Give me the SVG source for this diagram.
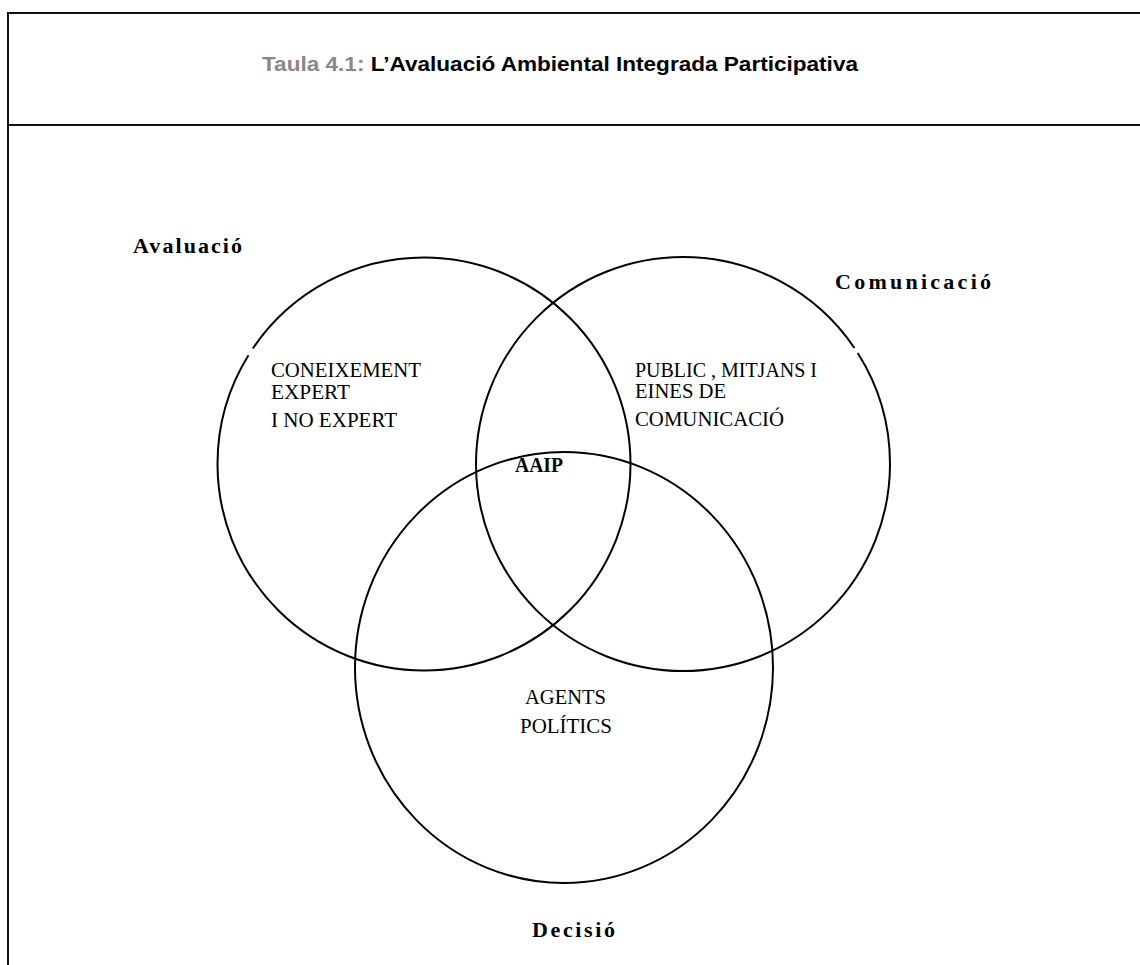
<svg xmlns="http://www.w3.org/2000/svg" width="1140" height="965" viewBox="0 0 1140 965">
<style>
.frame{fill:none;stroke:#111;stroke-width:2}
.circ{fill:none;stroke:#000;stroke-width:2}
.ttl{font-family:"Liberation Sans",Arial,sans-serif;font-size:21px;font-weight:bold}
.lbl{font-family:"Liberation Serif","Times New Roman",serif;font-size:22px;font-weight:bold;fill:#000}
.txt{font-family:"Liberation Serif","Times New Roman",serif;font-size:20px;fill:#000}
</style>
<rect width="1140" height="965" fill="#fff"/>
<g id="frame">
<polyline class="frame" points="1141,13 8,13 8,966"/>
<line class="frame" x1="8" y1="125" x2="1141" y2="125"/>
</g>
<g id="title">
<text class="ttl" x="262" y="71" textLength="596" lengthAdjust="spacingAndGlyphs"><tspan fill="#888">Taula 4.1: </tspan><tspan fill="#000">L’Avaluació Ambiental Integrada Participativa</tspan></text>
</g>
<g id="connectors"></g>
<g id="avaluacio">
<circle class="circ" cx="424" cy="464" r="206.5" stroke-dasharray="763 8 700"/>
<text class="lbl" x="133" y="253" textLength="109" lengthAdjust="spacing">Avaluació</text>
<text class="txt" x="271" y="377" textLength="150" lengthAdjust="spacingAndGlyphs">CONEIXEMENT</text>
<text class="txt" x="271" y="399" textLength="79" lengthAdjust="spacingAndGlyphs">EXPERT</text>
<text class="txt" x="271" y="427" textLength="126" lengthAdjust="spacingAndGlyphs">I NO EXPERT</text>
</g>
<g id="comunicacio">
<circle class="circ" cx="683" cy="464" r="207" stroke-dasharray="1177 6 300"/>
<text class="lbl" x="835" y="289" textLength="156" lengthAdjust="spacing">Comunicació</text>
<text class="txt" x="635" y="377" textLength="182" lengthAdjust="spacingAndGlyphs">PUBLIC , MITJANS I</text>
<text class="txt" x="635" y="398" textLength="91" lengthAdjust="spacingAndGlyphs">EINES DE</text>
<text class="txt" x="635" y="426" textLength="149" lengthAdjust="spacingAndGlyphs">COMUNICACIÓ</text>
</g>
<g id="decisio">
<ellipse class="circ" cx="564" cy="667.5" rx="209" ry="215.5"/>
<text class="lbl" x="532" y="937" textLength="83" lengthAdjust="spacing">Decisió</text>
<text class="txt" x="525" y="704" textLength="81" lengthAdjust="spacingAndGlyphs">AGENTS</text>
<text class="txt" x="520" y="733" textLength="92" lengthAdjust="spacingAndGlyphs">POLÍTICS</text>
</g>
<g id="aaip">
<text class="lbl" x="515" y="472" textLength="48" lengthAdjust="spacingAndGlyphs">AAIP</text>
</g>
</svg>
